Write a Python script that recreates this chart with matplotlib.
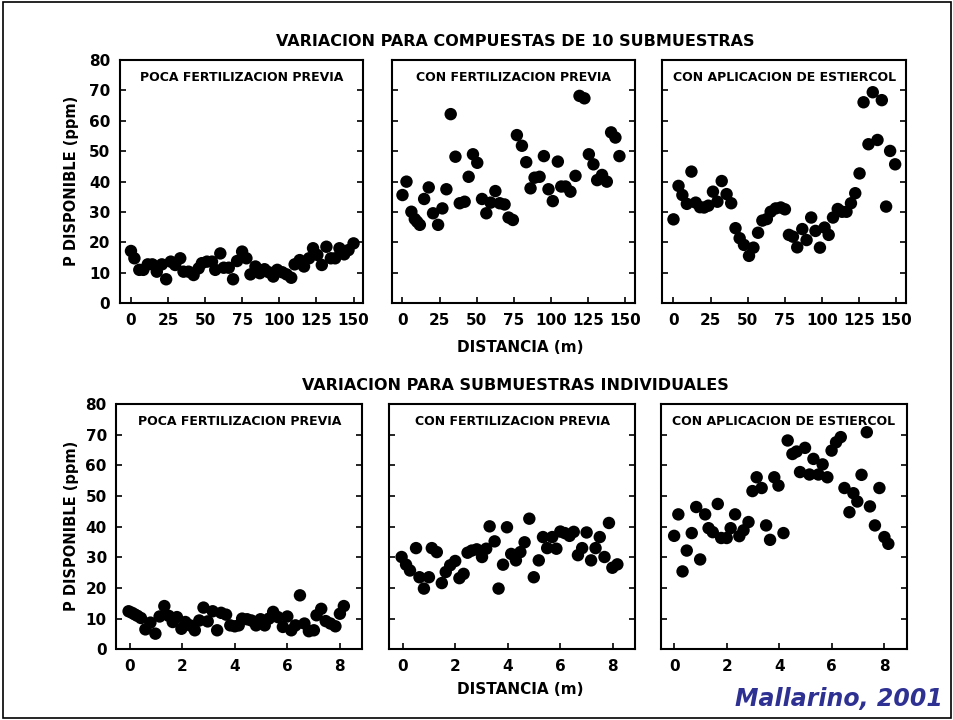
import matplotlib.pyplot as plt
from matplotlib.patches import Rectangle

plt.rcParams['font.family'] = ['DejaVu Sans']
plt.rcParams['font.weight'] = 'bold'

# --- compuestas de 10 submuestras (distancia en m) ---
comp_poca_x = [0, 2.3, 5.6, 8.3, 11.3, 14.4, 17.4, 20.8, 23.7, 26.8, 29.8, 33.2, 35.4,
               38.8, 42.2, 45.6, 47.8, 51.2, 54.6, 56.8, 60.2, 62.5, 65.9, 68.8, 71.5,
               74.9, 77.8, 80.5, 83.9, 86.8, 90, 92.9, 95.9, 98.6, 102, 104.9, 108,
               110.3, 113.7, 116.6, 120, 122.7, 125.6, 128.6, 131.7, 134.7, 137.6,
               140.5, 143.7, 146.6, 150]
comp_poca_y = [17.2, 14.8, 11, 11, 12.8, 12.8, 10.4, 12.8, 7.9, 13.7, 12.6, 14.8, 10.4,
               10.4, 9.3, 11.5, 13.2, 13.7, 13.7, 11, 16.4, 11.7, 11.7, 7.9, 13.9,
               17, 14.8, 9.5, 12.1, 9.9, 11.2, 10.2, 8.8, 11, 10.2, 9.5, 8.4,
               12.8, 14.2, 12.1, 14.8, 18.1, 15.9, 12.6, 18.6, 14.8, 14.8,
               18.1, 16.1, 17.5, 19.7]

comp_fert_x = [0, 2.7, 6, 8.3, 9.9, 11.7, 14.6, 17.7, 20.6, 24, 26.9, 29.6, 32.5, 35.7,
               38.6, 41.9, 44.6, 47.5, 50.4, 53.6, 56.5, 59.4, 62.6, 65.5, 68.8, 71.5,
               74.4, 77.1, 80.5, 83.4, 86.3, 89, 92.4, 95.3, 98.4, 101.3, 104.7, 107,
               109.9, 113.2, 116.6, 119.3, 122.6, 125.6, 128.7, 131.2, 134.5, 137.7,
               140.6, 143.5, 146.2]
comp_fert_y = [35.6, 40, 30.1, 27.7, 26.8, 25.8, 34.3, 38.1, 29.6, 25.8, 31.2, 37.5, 62.2,
               48.2, 32.9, 33.4, 41.6, 49, 46.2, 34.3, 29.6, 33.1, 36.9, 32.9, 32.5,
               28.2, 27.4, 55.3, 51.8, 46.4, 37.8, 41.3, 41.6, 48.4, 37.5, 33.6, 46.6,
               38.4, 38.4, 36.7, 41.9, 68.2, 67.4, 49, 45.7, 40.5, 42.2, 40, 56.2,
               54.5, 48.4]

comp_est_x = [0, 3.4, 6, 9, 12.1, 15, 17.9, 20.6, 23.5, 26.6, 29.6, 32.5, 35.8, 38.9,
              41.8, 44.6, 47.5, 50.9, 53.9, 57, 59.9, 62.9, 65.5, 68.9, 72.3, 75.1,
              77.8, 80.5, 83.4, 86.8, 89.7, 92.8, 95.7, 98.7, 101.8, 104.6, 107.5,
              110.7, 113.6, 116.6, 119.6, 122.5, 125.4, 128.1, 131.4, 134.3, 137.5,
              140.4, 143.3, 146, 149.4]
comp_est_y = [27.6, 38.6, 35.6, 32.7, 43.3, 33.1, 31.6, 31.5, 32.1, 36.7, 33.4, 40.2,
              35.9, 32.9, 24.7, 21.4, 19.2, 15.6, 18.3, 23.2, 27.2, 27.7, 30.1, 31.2,
              31.5, 30.9, 22.5, 21.9, 18.4, 24.4, 20.8, 28.2, 23.8, 18.3, 24.9, 22.5,
              28.2, 31, 30.1, 30.1, 32.9, 36.2, 42.7, 66.1, 52.3, 69.4, 53.7, 66.8,
              31.8, 50.1, 45.7]

# --- submuestras individuales (distancia en m) ---
ind_poca_x = [-0.04, 0.09, 0.19, 0.3, 0.43, 0.6, 0.79, 0.98, 1.14, 1.32, 1.49, 1.64, 1.8,
              1.97, 2.12, 2.3, 2.48, 2.65, 2.81, 2.97, 3.16, 3.33, 3.48, 3.67, 3.83,
              4, 4.15, 4.28, 4.47, 4.63, 4.81, 4.98, 5.14, 5.3, 5.46, 5.64, 5.83, 6,
              6.15, 6.31, 6.48, 6.65, 6.82, 7.01, 7.11, 7.29, 7.46, 7.64, 7.83, 8, 8.15]
ind_poca_y = [12.4, 11.9, 11.4, 10.9, 10.2, 6.5, 8.7, 5.1, 10.7, 14.1, 10.9, 8.9, 10.5,
              6.7, 8.9, 7.8, 6.2, 9.4, 13.6, 9.1, 12.4, 6.2, 11.9, 11.3, 7.8,
              7.5, 7.8, 10, 9.8, 9.4, 7.8, 9.8, 7.8, 10, 12.2, 10.5, 7.3, 10.7,
              6.2, 7.8, 17.6, 8.4, 5.9, 6.2, 11.1, 13.2, 9.2, 8.4, 7.5, 11.6, 14.1]

ind_fert_x = [-0.04, 0.13, 0.28, 0.51, 0.64, 0.81, 1, 1.11, 1.3, 1.49, 1.64, 1.81, 2,
              2.16, 2.32, 2.47, 2.63, 2.82, 3.02, 3.18, 3.31, 3.5, 3.65, 3.82, 3.97,
              4.13, 4.31, 4.48, 4.64, 4.82, 4.99, 5.18, 5.34, 5.5, 5.69, 5.85, 6,
              6.17, 6.35, 6.51, 6.67, 6.83, 7, 7.17, 7.34, 7.5, 7.68, 7.85, 7.98, 8.17]
ind_fert_y = [30.1, 27.6, 25.7, 33, 23.5, 19.8, 23.5, 33, 31.7, 21.6, 25.2, 27.4, 28.8,
              23.2, 24.6, 31.5, 32.2, 32.6, 30.1, 32.8, 40.1, 35.2, 19.8, 27.6, 39.8,
              31.1, 29, 31.7, 34.9, 42.6, 23.5, 29, 36.6, 33, 36.6, 32.8, 38.4,
              37.9, 37, 38.3, 30.7, 33, 38.1, 29, 33, 36.6, 30.1, 41.2, 26.6, 27.7]

ind_est_x = [0, 0.16, 0.32, 0.48, 0.67, 0.84, 0.99, 1.18, 1.31, 1.47, 1.66, 1.79, 2,
             2.15, 2.32, 2.48, 2.64, 2.83, 2.98, 3.14, 3.33, 3.5, 3.65, 3.81, 3.97,
             4.16, 4.32, 4.5, 4.66, 4.79, 4.98, 5.15, 5.3, 5.49, 5.65, 5.83, 5.99,
             6.16, 6.34, 6.48, 6.67, 6.82, 6.97, 7.13, 7.33, 7.45, 7.64, 7.81, 8, 8.15]
ind_est_y = [37, 44, 25.4, 32.2, 37.9, 46.4, 29.3, 44, 39.5, 38.2, 47.4, 36.3, 36.3,
             39.5, 44, 36.9, 38.8, 41.5, 51.6, 56.1, 52.6, 40.4, 35.7, 56.1, 53.4,
             37.9, 68.1, 63.7, 64.5, 57.8, 65.7, 57, 62.1, 57, 60.3, 56.1, 64.8,
             67.5, 69.2, 52.6, 44.7, 50.9, 48.2, 56.9, 70.8, 46.6, 40.4, 52.6, 36.6, 34.4]

panel_titles = ['POCA FERTILIZACION PREVIA', 'CON FERTILIZACION PREVIA',
                'CON APLICACION DE ESTIERCOL']
top_ticks = [0, 25, 50, 75, 100, 125, 150]
bot_ticks = [0, 2, 4, 6, 8]
y_ticks = [0, 10, 20, 30, 40, 50, 60, 70, 80]

fig = plt.figure(figsize=(9.54, 7.2), dpi=100)

top_lefts = [120, 391.5, 662.5]
bot_lefts = [116.5, 389.5, 661]
W, H = 954.0, 720.0

rows = [
    (top_lefts, 243.5, 303.3, 243.3, [(comp_poca_x, comp_poca_y), (comp_fert_x, comp_fert_y),
                                       (comp_est_x, comp_est_y)], top_ticks, (-7.4, 156.7)),
    (bot_lefts, 246, 649.3, 245.3, [(ind_poca_x, ind_poca_y), (ind_fert_x, ind_fert_y),
                                     (ind_est_x, ind_est_y)], bot_ticks, (-0.5, 8.86)),
]

for lefts, w, bottom, h, series, xticks, xlim in rows:
    for i, (left, (xs, ys)) in enumerate(zip(lefts, series)):
        ax = fig.add_axes([left / W, (H - bottom) / H, w / W, h / H])
        ax.scatter(xs, ys, s=80, color='black', edgecolors='none', zorder=3)
        ax.set_xlim(*xlim)
        ax.set_ylim(0, 80)
        ax.set_xticks(xticks)
        ax.set_yticks(y_ticks)
        ax.tick_params(direction='in', length=4, width=1.2, right=True, top=False,
                       labelsize=11, pad=7)
        for lab in ax.get_xticklabels() + ax.get_yticklabels():
            lab.set_fontweight('bold')
        if i > 0:
            ax.set_yticklabels([])
        for sp in ax.spines.values():
            sp.set_linewidth(1.5)
        ax.text(0.5, 0.955, panel_titles[i], transform=ax.transAxes, ha='center',
                va='top', fontsize=9, fontweight='bold')

# textos generales
fig.text(515 / W, 1 - 42 / H, 'VARIACION PARA COMPUESTAS DE 10 SUBMUESTRAS',
         ha='center', va='center', fontsize=11.5, fontweight='bold')
fig.text(515 / W, 1 - 385 / H, 'VARIACION PARA SUBMUESTRAS INDIVIDUALES',
         ha='center', va='center', fontsize=11.5, fontweight='bold')
fig.text(520 / W, 1 - 347 / H, 'DISTANCIA (m)', ha='center', va='center',
         fontsize=11, fontweight='bold')
fig.text(520 / W, 1 - 690 / H, 'DISTANCIA (m)', ha='center', va='center',
         fontsize=11, fontweight='bold')
fig.text(72 / W, 1 - 181 / H, 'P DISPONIBLE (ppm)', ha='center', va='center',
         rotation=90, fontsize=10.5, fontweight='bold')
fig.text(72 / W, 1 - 526 / H, 'P DISPONIBLE (ppm)', ha='center', va='center',
         rotation=90, fontsize=10.5, fontweight='bold')
fig.text(943 / W, 1 - 699 / H, 'Mallarino, 2001', ha='right', va='center',
         fontsize=17, fontweight='bold', style='italic', color='#2e3192')

fig.patches.append(Rectangle((0.003, 0.003), 0.994, 0.994, transform=fig.transFigure,
                             fill=False, edgecolor='black', linewidth=1.2))

fig.savefig('out.png', dpi=100)
